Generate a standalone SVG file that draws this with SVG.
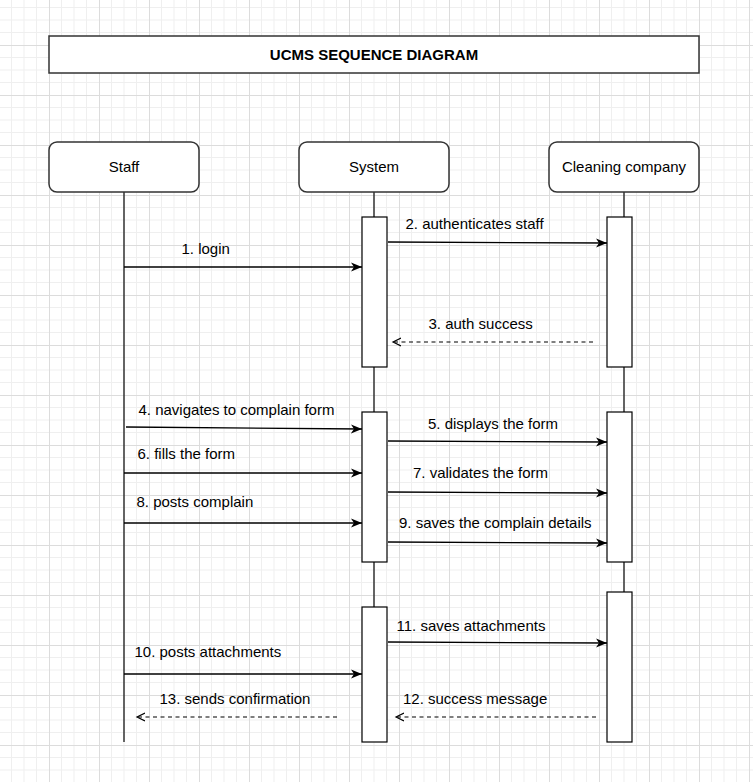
<svg xmlns="http://www.w3.org/2000/svg" width="753" height="782" viewBox="0 0 753 782">
<style>
.t{font-family:"Liberation Sans",Arial,sans-serif;font-size:15px;fill:#000}
.title{font-weight:bold;text-anchor:middle}
.c{text-anchor:middle}
.box{fill:#fff;stroke:#333;stroke-width:1.5}
.act{fill:#fff;stroke:#000;stroke-width:1.2}
.life{stroke:#333;stroke-width:1.5;fill:none}
.msg{stroke:#000;stroke-width:1.3;fill:none;marker-end:url(#arr)}
.ret{stroke:#000;stroke-width:1.1;fill:none;stroke-dasharray:4 3.5;marker-end:url(#open)}
</style>
<defs>
<pattern id="grid" width="50" height="50" x="-1" y="-5" patternUnits="userSpaceOnUse">
<path d="M12.5 0V50M25 0V50M37.5 0V50M0 12.5H50M0 25H50M0 37.5H50" stroke="#efefef" stroke-width="1"/>
<path d="M0.5 0V50M0 0.5H50" stroke="#dcdcdc" stroke-width="1"/>
</pattern>
<marker id="arr" markerUnits="userSpaceOnUse" markerWidth="12" markerHeight="10" refX="11" refY="5" orient="auto">
<path d="M0,0.5 L11,5 L0,9.5 L3,5 Z" fill="#000"/>
</marker>
<marker id="open" markerUnits="userSpaceOnUse" markerWidth="10" markerHeight="10" refX="8" refY="5" orient="auto">
<path d="M0,1 L8,5 L0,9" fill="none" stroke="#000" stroke-width="1.2"/>
</marker>
</defs>
<rect width="753" height="782" fill="#fff"/>
<rect width="753" height="782" fill="url(#grid)"/>

<g id="title">
<rect class="box" x="49" y="36" width="650" height="37"/>
<text class="t title" x="374" y="60">UCMS SEQUENCE DIAGRAM</text>
</g>

<g id="lifelines">
<line class="life" x1="124" y1="192" x2="124" y2="742"/>
<line class="life" x1="374" y1="192" x2="374" y2="217"/>
<line class="life" x1="374" y1="367" x2="374" y2="412"/>
<line class="life" x1="374" y1="562" x2="374" y2="607"/>
<line class="life" x1="624" y1="192" x2="624" y2="217"/>
<line class="life" x1="624" y1="367" x2="624" y2="412"/>
<line class="life" x1="624" y1="562" x2="624" y2="592"/>
</g>

<g id="staff">
<rect class="box" x="49" y="142" width="150" height="50" rx="8"/>
<text class="t c" x="124" y="172">Staff</text>
</g>
<g id="system">
<rect class="box" x="299" y="142" width="150" height="50" rx="8"/>
<text class="t c" x="374" y="172">System</text>
<rect class="act" x="362" y="217" width="25" height="150"/>
<rect class="act" x="362" y="412" width="25" height="150"/>
<rect class="act" x="362" y="607" width="25" height="135"/>
</g>
<g id="cleaning">
<rect class="box" x="549" y="142" width="150" height="50" rx="8"/>
<text class="t c" x="624" y="172">Cleaning company</text>
<rect class="act" x="607" y="217" width="25" height="150"/>
<rect class="act" x="607" y="412" width="25" height="150"/>
<rect class="act" x="607" y="592" width="25" height="150"/>
</g>

<g id="connectors">
<line class="msg" x1="124" y1="267" x2="362" y2="267"/>
<line class="msg" x1="388" y1="242" x2="607" y2="243"/>
<line class="ret" x1="593" y1="342" x2="393" y2="342"/>
<line class="msg" x1="126" y1="427" x2="362" y2="429"/>
<line class="msg" x1="388" y1="441" x2="607" y2="442"/>
<line class="msg" x1="124" y1="473" x2="362" y2="473"/>
<line class="msg" x1="388" y1="492" x2="607" y2="493"/>
<line class="msg" x1="124" y1="523" x2="362" y2="523"/>
<line class="msg" x1="388" y1="542" x2="607" y2="543"/>
<line class="msg" x1="388" y1="642" x2="607" y2="643"/>
<line class="msg" x1="124" y1="674" x2="362" y2="674"/>
<line class="ret" x1="596" y1="717" x2="396" y2="717"/>
<line class="ret" x1="337" y1="717" x2="137" y2="717"/>
</g>

<g id="labels">
<text class="t" x="181.5" y="254">1. login</text>
<text class="t" x="405.5" y="229">2. authenticates staff</text>
<text class="t" x="428.5" y="329">3. auth success</text>
<text class="t" x="138.5" y="415">4. navigates to complain form</text>
<text class="t" x="428" y="429">5. displays the form</text>
<text class="t" x="137.5" y="459">6. fills the form</text>
<text class="t" x="413" y="478">7. validates the form</text>
<text class="t" x="136.5" y="507">8. posts complain</text>
<text class="t" x="399" y="528">9. saves the complain details</text>
<text class="t" x="134.5" y="657">10. posts attachments</text>
<text class="t" x="396.5" y="631">11. saves attachments</text>
<text class="t" x="403" y="704">12. success message</text>
<text class="t" x="159.5" y="704">13. sends confirmation</text>
</g>
</svg>
